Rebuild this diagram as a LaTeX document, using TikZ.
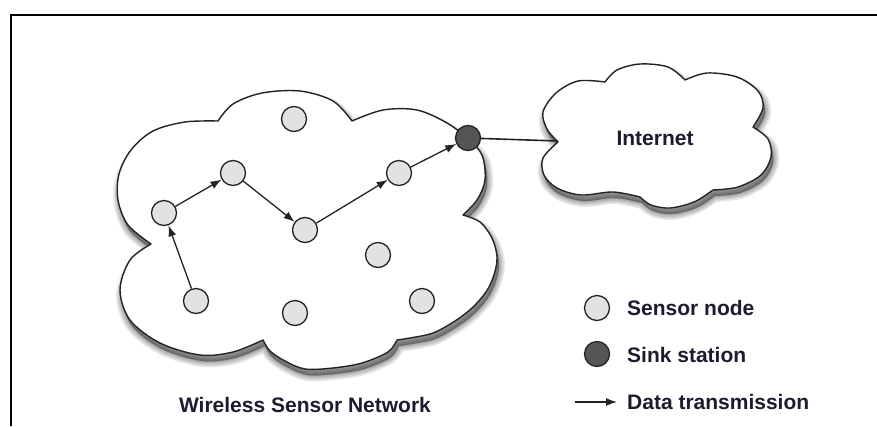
\documentclass[tikz,border=0pt]{standalone}
\usepackage{fontspec}
\setmainfont{Liberation Sans}
\usetikzlibrary{arrows.meta}
\definecolor{txt}{RGB}{28,28,45}
\definecolor{sensorfill}{RGB}{226,226,226}
\definecolor{sinkfill}{RGB}{85,85,85}
\definecolor{edge}{RGB}{35,35,35}
\def\wsnpath{(151,244)
 -- plot[smooth,tension=0.55] coordinates {(151,244) (128,225) (118,200) (119,174) (131,150) (153,131) (185,122) (218,121)}
 -- plot[smooth,tension=0.55] coordinates {(218,121) (233,104) (262,93) (300,91) (333,101) (352,121)}
 -- plot[smooth,tension=0.55] coordinates {(352,121) (383,110) (417,110) (447,123) (468,139) (482,155) (485,180) (477,200) (463,215)}
 -- plot[smooth,tension=0.55] coordinates {(463,215) (480,222) (492,238) (497,257) (494,275) (486,292) (472,308) (455,321) (433,333) (410,338) (397,340)}
 -- plot[smooth,tension=0.55] coordinates {(397,340) (388,352) (362,363) (333,368) (305,369) (285,361) (270,351) (263,340)}
 -- plot[smooth,tension=0.55] coordinates {(263,340) (233,352) (200,355) (160,343) (130,320) (120,290) (130,260) (151,244)}
 -- cycle}
\def\inetpath{(558,142)
 -- plot[smooth,tension=0.55] coordinates {(558,142) (547,129) (543,112) (556,93) (578,81) (605,82)}
 -- plot[smooth,tension=0.55] coordinates {(605,82) (617,70) (640,64) (668,67) (685,80)}
 -- plot[smooth,tension=0.55] coordinates {(685,80) (707,73) (737,77) (758,91) (763,108) (753,127)}
 -- plot[smooth,tension=0.55] coordinates {(753,127) (768,139) (771,157) (761,175) (738,187) (713,190)}
 -- plot[smooth,tension=0.55] coordinates {(713,190) (694,202) (670,208) (651,205) (640,197)}
 -- plot[smooth,tension=0.55] coordinates {(640,197) (613,192) (581,195) (557,188) (544,175) (543,158) (558,142)}
 -- cycle}
\begin{document}
\begin{tikzpicture}[x=1pt,y=-1pt,
  sensor/.style={circle,draw=edge,line width=1.3pt,fill=sensorfill,minimum size=25pt,inner sep=0pt},
  sinkst/.style={sensor,fill=sinkfill},
  datalink/.style={draw=edge,line width=1.3pt,-{Latex[length=11pt,width=8pt]}},
  lbl/.style={text=txt,font=\fontsize{21}{24}\selectfont\bfseries,inner sep=0pt},
  cloudline/.style={draw=edge,line width=1.4pt,fill=white,line join=round},
  shade/.style={black,fill opacity=0.09,draw opacity=0.09,line join=round,shift={(2,6)}},
]
\useasboundingbox (0,0) rectangle (877,426);
% frame
\draw[line width=2pt,black] (11,426) -- (11,15) -- (877,15);
% shadows
\foreach \w in {12,9,6,3,1}{\filldraw[shade,line width=\w pt] \wsnpath;}
\foreach \w in {12,9,6,3,1}{\filldraw[shade,line width=\w pt] \inetpath;}
% clouds
\path[cloudline] \wsnpath;
\path[cloudline] \inetpath;
\coordinate (inetport) at (558,141);
% network nodes
\node[sensor] (n1) at (196,301) {};
\node[sensor] (n2) at (164,213) {};
\node[sensor] (n3) at (233,173) {};
\node[sensor] (n4) at (294,119) {};
\node[sensor] (n5) at (305,230) {};
\node[sensor] (n6) at (399,173) {};
\node[sensor] (n7) at (378,255) {};
\node[sensor] (n8) at (295,313) {};
\node[sensor] (n9) at (422,301) {};
\node[sinkst] (sink) at (468,138) {};
% links
\draw[line width=1.6pt,edge] (sink) -- (inetport);
\draw[datalink] (n1) -- (n2);
\draw[datalink] (n2) -- (n3);
\draw[datalink] (n3) -- (n5);
\draw[datalink] (n5) -- (n6);
\draw[datalink] (n6) -- (sink);
% labels
\node[lbl] (inetlbl) at (655,138) {Internet};
\node[lbl] (wsnlbl) at (305,405) {Wireless Sensor Network};
% legend
\node[sensor] (legsensor) at (597,308) {};
\node[lbl,anchor=west] (legsensortxt) at (627,308) {Sensor node};
\node[sinkst] (legsink) at (597,354) {};
\node[lbl,anchor=west] (legsinktxt) at (627,355) {Sink station};
\coordinate (legarrA) at (575,402);
\coordinate (legarrB) at (617,402);
\draw[datalink] (legarrA) -- (legarrB);
\node[lbl,anchor=west] (legdatatxt) at (627,402) {Data transmission};
\end{tikzpicture}
\end{document}
